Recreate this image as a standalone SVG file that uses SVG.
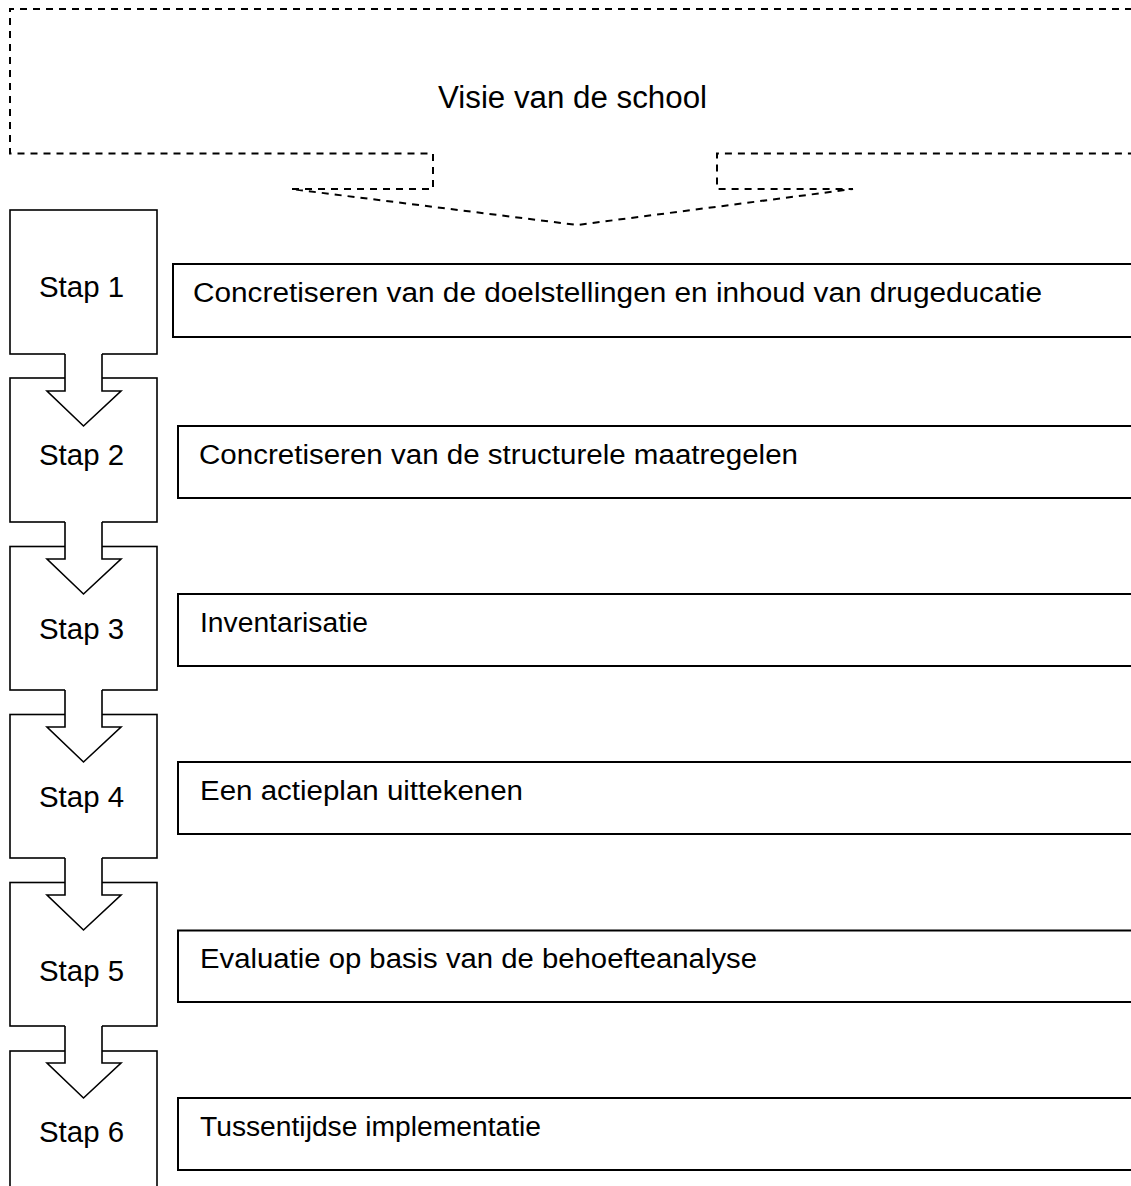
<svg xmlns="http://www.w3.org/2000/svg" width="1131" height="1186" viewBox="0 0 1131 1186">
<style>
  .lbl { font-family: "Liberation Sans", Arial, sans-serif; fill: #000; }
  .step { fill: #fff; stroke: #000; stroke-width: 1.6; }
  .tbox { fill: #fff; stroke: #000; stroke-width: 2; }
  .callout { fill: #fff; stroke: #000; stroke-width: 2; stroke-dasharray: 7 6; }
  .ahfill { fill: #fff; stroke: none; }
  .ahline { fill: none; stroke: #000; stroke-width: 1.6; stroke-linejoin: miter; }
</style>
<rect width="1131" height="1186" fill="#fff"/>

<g id="visie">
  <path class="callout" d="M 1145,9 H 10 V 153.5 H 433 V 189 H 291 L 577,225 L 853,189 H 717 V 153.5 H 1145"/>
  <text class="lbl" x="438" y="108" font-size="31" textLength="269" lengthAdjust="spacingAndGlyphs">Visie van de school</text>
</g>

<g id="stap1"><rect class="step" x="10" y="210" width="147" height="144"/>
  <text class="lbl" x="39" y="297" font-size="29" textLength="85" lengthAdjust="spacingAndGlyphs">Stap 1</text></g>
<g id="stap2"><rect class="step" x="10" y="378" width="147" height="144"/>
  <text class="lbl" x="39" y="465" font-size="29" textLength="85" lengthAdjust="spacingAndGlyphs">Stap 2</text></g>
<g id="stap3"><rect class="step" x="10" y="546.5" width="147" height="143.5"/>
  <text class="lbl" x="39" y="639" font-size="29" textLength="85" lengthAdjust="spacingAndGlyphs">Stap 3</text></g>
<g id="stap4"><rect class="step" x="10" y="714.5" width="147" height="143.5"/>
  <text class="lbl" x="39" y="807" font-size="29" textLength="85" lengthAdjust="spacingAndGlyphs">Stap 4</text></g>
<g id="stap5"><rect class="step" x="10" y="882.5" width="147" height="143.5"/>
  <text class="lbl" x="39" y="981" font-size="29" textLength="85" lengthAdjust="spacingAndGlyphs">Stap 5</text></g>
<g id="stap6"><rect class="step" x="10" y="1051" width="147" height="150"/>
  <text class="lbl" x="39" y="1142" font-size="29" textLength="85" lengthAdjust="spacingAndGlyphs">Stap 6</text></g>

<g id="connectors">
  <g transform="translate(0,0)">
    <polygon class="ahfill" points="65,352 102,352 102,391 121,391 83.5,426 47,391 65,391"/>
    <polyline class="ahline" points="65,354 65,391 47,391 83.5,426 121,391 102,391 102,354"/>
  </g>
  <g transform="translate(0,168)">
    <polygon class="ahfill" points="65,352 102,352 102,391 121,391 83.5,426 47,391 65,391"/>
    <polyline class="ahline" points="65,354 65,391 47,391 83.5,426 121,391 102,391 102,354"/>
  </g>
  <g transform="translate(0,336)">
    <polygon class="ahfill" points="65,352 102,352 102,391 121,391 83.5,426 47,391 65,391"/>
    <polyline class="ahline" points="65,354 65,391 47,391 83.5,426 121,391 102,391 102,354"/>
  </g>
  <g transform="translate(0,504)">
    <polygon class="ahfill" points="65,352 102,352 102,391 121,391 83.5,426 47,391 65,391"/>
    <polyline class="ahline" points="65,354 65,391 47,391 83.5,426 121,391 102,391 102,354"/>
  </g>
  <g transform="translate(0,672)">
    <polygon class="ahfill" points="65,352 102,352 102,391 121,391 83.5,426 47,391 65,391"/>
    <polyline class="ahline" points="65,354 65,391 47,391 83.5,426 121,391 102,391 102,354"/>
  </g>
</g>

<g id="taak1"><rect class="tbox" x="173" y="264" width="980" height="73"/>
  <text class="lbl" x="193" y="302" font-size="27" textLength="849" lengthAdjust="spacingAndGlyphs">Concretiseren van de doelstellingen en inhoud van drugeducatie</text></g>
<g id="taak2"><rect class="tbox" x="178" y="426" width="980" height="72"/>
  <text class="lbl" x="199" y="464" font-size="27" textLength="599" lengthAdjust="spacingAndGlyphs">Concretiseren van de structurele maatregelen</text></g>
<g id="taak3"><rect class="tbox" x="178" y="594" width="980" height="72"/>
  <text class="lbl" x="200" y="632" font-size="27" textLength="168" lengthAdjust="spacingAndGlyphs">Inventarisatie</text></g>
<g id="taak4"><rect class="tbox" x="178" y="762" width="980" height="72"/>
  <text class="lbl" x="200" y="800" font-size="27" textLength="323" lengthAdjust="spacingAndGlyphs">Een actieplan uittekenen</text></g>
<g id="taak5"><rect class="tbox" x="178" y="930.5" width="980" height="71.5"/>
  <text class="lbl" x="200" y="968" font-size="27" textLength="557" lengthAdjust="spacingAndGlyphs">Evaluatie op basis van de behoefteanalyse</text></g>
<g id="taak6"><rect class="tbox" x="178" y="1098" width="980" height="72"/>
  <text class="lbl" x="200" y="1136" font-size="27" textLength="341" lengthAdjust="spacingAndGlyphs">Tussentijdse implementatie</text></g>
</svg>
